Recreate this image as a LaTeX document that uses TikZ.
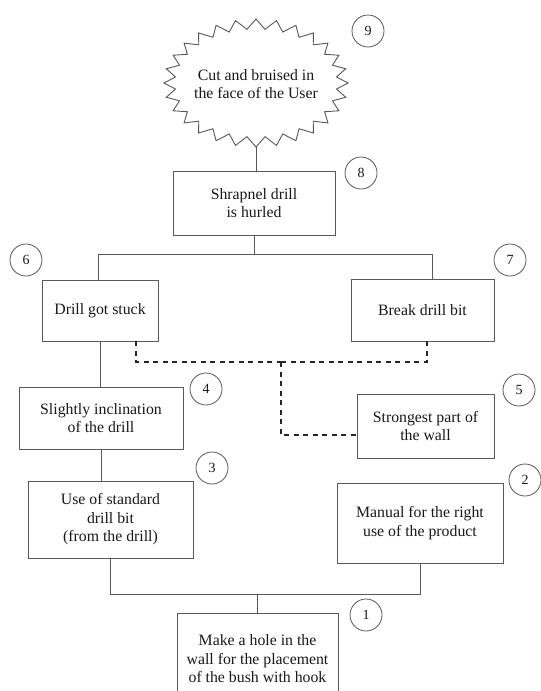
\documentclass[tikz,border=0pt]{standalone}
\usepackage{fontspec}
\setmainfont{Liberation Serif}
\tikzset{
  box/.style={draw=black!65, line width=0.9pt, align=center, inner sep=0pt,
    font=\fontsize{15.8}{18.5}\selectfont, text=black!90},
  num/.style={circle, draw=black!65, line width=0.8pt, minimum size=32pt, inner sep=0pt,
    font=\fontsize{14}{16}\selectfont, text=black!90},
  conn/.style={draw=black!65, line width=0.8pt},
  dotline/.style={draw=black!85, line width=2.2pt, dash pattern=on 5pt off 4.5pt},
  starline/.style={draw=black!65, line width=0.9pt}
}
\begin{document}
\begin{tikzpicture}[x=1pt,y=-1pt]
\useasboundingbox (0,0) rectangle (541,691);
\clip (0,0) rectangle (541,691);
\fill[white] (0,0) rectangle (541,691);

% starburst
\draw[starline] (256,19)
  \foreach \k in {0,...,27} {
    -- ({256+81*cos(-90+(\k+0.5)*360/28)}, {83+54*sin(-90+(\k+0.5)*360/28)})
    -- ({256+92*cos(-90+(\k+1)*360/28)}, {83+64*sin(-90+(\k+1)*360/28)})
  } -- cycle;
\node[align=center, font=\fontsize{15.8}{18.5}\selectfont, text=black!90] (star) at (256,84)
  {Cut and bruised in\\the face of the User};
\coordinate (starbot) at (256,147);

% boxes
\node[box, minimum width=162pt, minimum height=64pt] (b8) at (254,203) {Shrapnel drill\\is hurled};
\node[box, minimum width=116pt, minimum height=61pt] (b6) at (100,310.5) {Drill got stuck};
\node[box, minimum width=143pt, minimum height=62pt] (b7) at (422.5,310) {Break drill bit};
\node[box, minimum width=164pt, minimum height=62pt] (b4) at (101,418) {Slightly inclination\\of the drill};
\node[box, minimum width=137pt, minimum height=64pt] (b5) at (425.5,426) {Strongest part of\\the wall};
\node[box, minimum width=165pt, minimum height=77pt] (b3) at (110.5,519.5) {Use of standard\\drill bit\\(from the drill)};
\node[box, minimum width=166pt, minimum height=80pt] (b2) at (420,523) {Manual for the right\\use of the product};
\node[box, minimum width=161pt, minimum height=92pt] (b1) at (257.5,659) {Make a hole in the\\wall for the placement\\of the bush with hook};

% number circles
\node[num] (c9) at (368,31) {9};
\node[num] (c8) at (361,173) {8};
\node[num] (c6) at (26,260) {6};
\node[num] (c7) at (510,260) {7};
\node[num] (c4) at (206,389) {4};
\node[num] (c5) at (519,390) {5};
\node[num] (c3) at (212,468) {3};
\node[num] (c2) at (525,480) {2};
\node[num] (c1) at (366,615) {1};

% connectors
\draw[conn] (starbot) -- (starbot |- b8.north);
\coordinate (t8) at (254,254);
\draw[conn] (b8.south) -- (t8);
\draw[conn] ([xshift=-2pt]b6.north) |- (t8);
\draw[conn] ([xshift=9.5pt]b7.north) |- (t8);
\draw[conn] (b6.south) -- (b6.south |- b4.north);
\draw[conn] (b4.south) -- (b4.south |- b3.north);
\coordinate (t1) at (257.5,594);
\draw[conn] (b3.south) |- (t1);
\draw[conn] (b2.south) |- (t1);
\draw[conn] (t1) -- (b1.north);

% dotted connectors
\coordinate (dj) at (281,362);
\draw[dotline] ([xshift=36pt]b6.south) |- (dj);
\draw[dotline] ([xshift=4.5pt]b7.south) |- (dj);
\draw[dotline] (dj) |- ([yshift=-9pt]b5.west);
\end{tikzpicture}
\end{document}
